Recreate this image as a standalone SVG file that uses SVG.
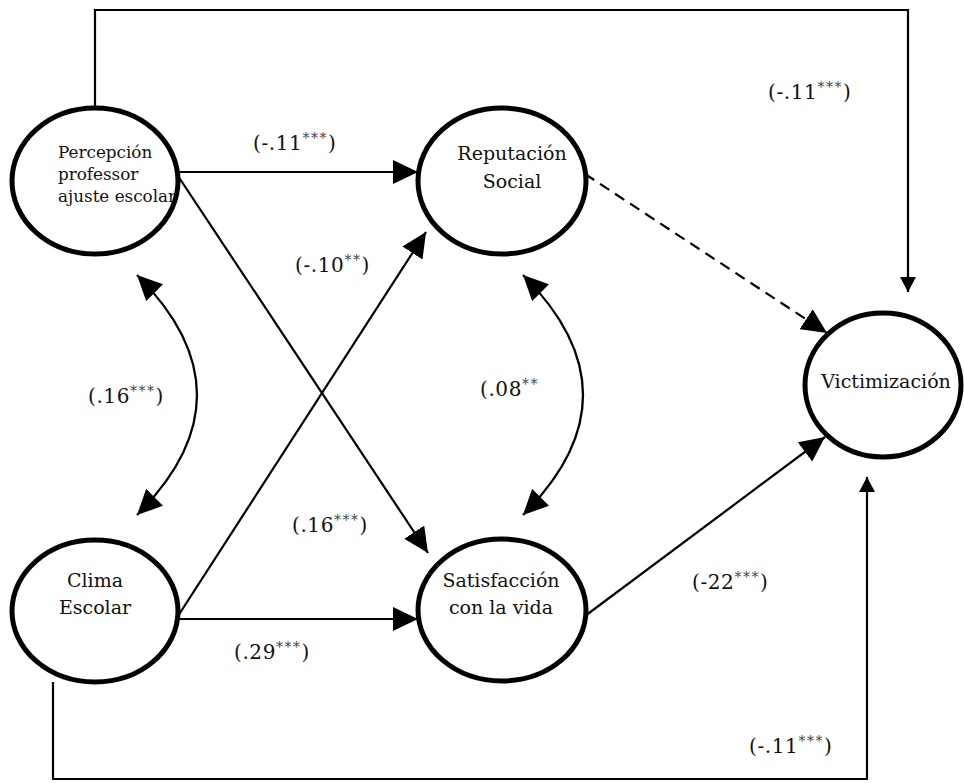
<svg xmlns="http://www.w3.org/2000/svg" width="964" height="783" viewBox="0 0 964 783">
  <style>
    .node { fill: #ffffff; stroke: #000000; stroke-width: 5; }
    .txt { font-family: "DejaVu Serif", "Liberation Serif", serif; font-size: 19px; fill: #111111; }
    .small { font-size: 16.8px; }
    .lbl { font-family: "DejaVu Serif", "Liberation Serif", serif; font-size: 20px; fill: #111111; letter-spacing: 0.6px; }
    .sup { font-size: 14px; fill: #444444; letter-spacing: 1.5px; }
    .edge { fill: none; stroke: #000000; stroke-width: 2.2; }
    .dash { stroke-dasharray: 11 7; }
  </style>
  <defs>
    <marker id="head" markerUnits="userSpaceOnUse" markerWidth="26" markerHeight="24" refX="25" refY="12" orient="auto-start-reverse">
      <path d="M0,0 L25,12 L0,24 z" fill="#000000"/>
    </marker>
    <marker id="headSmall" markerUnits="userSpaceOnUse" markerWidth="16" markerHeight="16" refX="15" refY="8" orient="auto">
      <path d="M0,0 L15,8 L0,16 z" fill="#000000"/>
    </marker>
  </defs>

  <g id="connectors">
    <!-- long paths around the outside -->
    <path class="edge" d="M95,108 V10 H908 V292" marker-end="url(#headSmall)"/>
    <path class="edge" d="M53,682 V779 H867 V477" marker-end="url(#headSmall)"/>
    <!-- predictors to mediators -->
    <path class="edge" d="M178,172 H418" marker-end="url(#head)"/>
    <path class="edge" d="M178,176 L428,553" marker-end="url(#head)"/>
    <path class="edge" d="M178,616 L426,232" marker-end="url(#head)"/>
    <path class="edge" d="M178,619 H418" marker-end="url(#head)"/>
    <!-- mediators to outcome -->
    <path class="edge dash" d="M585,174 L827,333" marker-end="url(#head)"/>
    <path class="edge" d="M585,616 L825,437" marker-end="url(#head)"/>
    <!-- covariances -->
    <path class="edge" d="M137,275 Q257,395 137,515" marker-start="url(#head)" marker-end="url(#head)"/>
    <path class="edge" d="M523,275 Q643,395 523,515" marker-start="url(#head)" marker-end="url(#head)"/>
  </g>

  <g id="labels">
    <text class="lbl" x="768" y="99">(-.11<tspan class="sup" dy="-7">***</tspan><tspan dy="7">)</tspan></text>
    <text class="lbl" x="253" y="150">(-.11<tspan class="sup" dy="-7">***</tspan><tspan dy="7">)</tspan></text>
    <text class="lbl" x="295" y="272">(-.10<tspan class="sup" dy="-7">**</tspan><tspan dy="7">)</tspan></text>
    <text class="lbl" x="88" y="403">(.16<tspan class="sup" dy="-7">***</tspan><tspan dy="7">)</tspan></text>
    <text class="lbl" x="480" y="396">(.08<tspan class="sup" dy="-7">**</tspan></text>
    <text class="lbl" x="292" y="532">(.16<tspan class="sup" dy="-7">***</tspan><tspan dy="7">)</tspan></text>
    <text class="lbl" x="234" y="659">(.29<tspan class="sup" dy="-7">***</tspan><tspan dy="7">)</tspan></text>
    <text class="lbl" x="692" y="589">(-22<tspan class="sup" dy="-7">***</tspan><tspan dy="7">)</tspan></text>
    <text class="lbl" x="749" y="753">(-.11<tspan class="sup" dy="-7">***</tspan><tspan dy="7">)</tspan></text>
  </g>

  <g id="percepcion">
    <ellipse class="node" cx="95" cy="181" rx="83" ry="73"/>
    <text class="txt small" x="58" y="158">Percepción</text>
    <text class="txt small" x="58" y="180">professor</text>
    <text class="txt small" x="58" y="202">ajuste escolar</text>
  </g>

  <g id="reputacion">
    <ellipse class="node" cx="502" cy="181" rx="84" ry="73"/>
    <text class="txt" x="512" y="160" text-anchor="middle">Reputación</text>
    <text class="txt" x="512" y="188" text-anchor="middle">Social</text>
  </g>

  <g id="clima">
    <ellipse class="node" cx="95" cy="611" rx="83" ry="71"/>
    <text class="txt" x="95" y="587" text-anchor="middle">Clima</text>
    <text class="txt" x="95" y="614" text-anchor="middle">Escolar</text>
  </g>

  <g id="satisfaccion">
    <ellipse class="node" cx="502" cy="610" rx="84" ry="71"/>
    <text class="txt" x="501" y="587" text-anchor="middle">Satisfacción</text>
    <text class="txt" x="501" y="614" text-anchor="middle">con la vida</text>
  </g>

  <g id="victimizacion">
    <ellipse class="node" cx="883" cy="385" rx="78" ry="72"/>
    <text class="txt" x="886" y="388" text-anchor="middle">Victimización</text>
  </g>
</svg>
